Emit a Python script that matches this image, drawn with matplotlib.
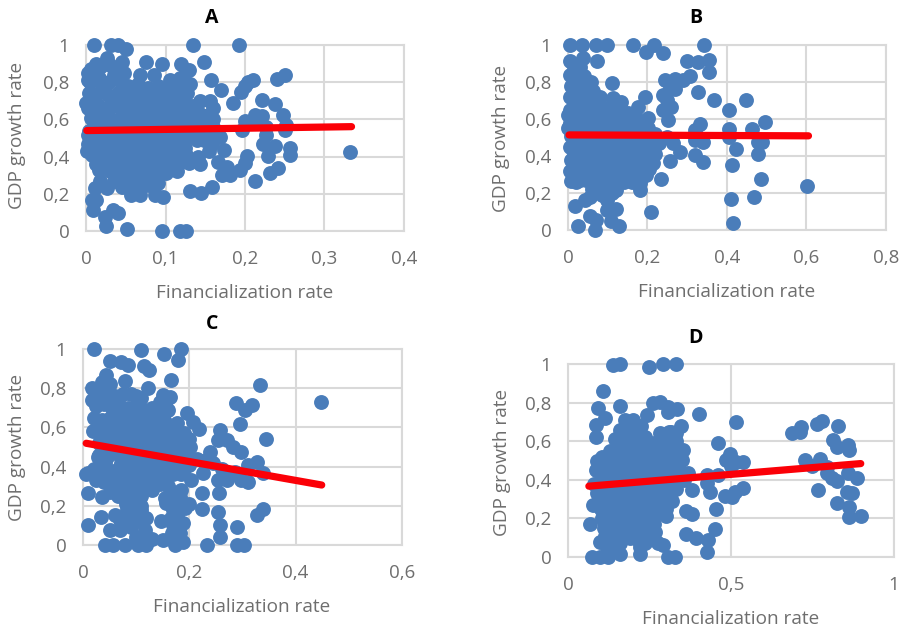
import matplotlib
matplotlib.use("Agg")
import matplotlib.pyplot as plt

plt.rcParams['font.family'] = ['Open Sans', 'DejaVu Sans']

W, H = 904, 630
BLUE = '#4a7dba'
RED = '#fb0007'
GRID = '#d9d9d9'
TXT = '#6e6e6e'

a_edge = [(.01,1),(.032,1),(.04,1),(.05,.98),(.135,1),(.192,1),(.076,.91),(.096,.90),(.12,.90),(.13,.865),(.148,.91),
(.157,.81),(.17,.76),(.185,.69),(.195,.75),(.204,.80),(.21,.81),(.24,.815),(.25,.84),(.221,.705),(.238,.685),(.248,.625),
(.213,.625),(.2,.59),(.252,.57),(.25,.545),(.227,.56),(.196,.545),(.227,.515),(.223,.47),(.238,.455),(.229,.405),(.256,.445),
(.256,.41),(.203,.405),(.2,.365),(.194,.33),(.212,.27),(.232,.31),(.241,.34),(.332,.423),(.181,.30),(.171,.30),(.177,.345),
(.166,.37),(.143,.36),(.141,.40),(.129,.365),(.131,.217),(.145,.206),(.159,.238),(.114,.32),(.097,.185),(.087,.195),(.085,.23),
(.068,.195),(.057,.195),(.051,.01),(.096,0),(.118,0),(.126,0),(.025,.027),(.04,.095),(.034,.113),(.024,.077),(.009,.113),
(.007,.167),(.013,.167),(.011,.23),(.026,.23),(.045,.238),(.143,.70),(.156,.70),(.16,.66),(.133,.67),(.143,.63),(.169,.507),
(.173,.435),(.158,.47),(.139,.49),(.125,.445),(.026,.93),(.045,.91),(.013,.90),(.003,.85),(.002,.81),(0,.69),(.002,.47),(.001,.43),
(.002,.515),(.068,.84),(.085,.84),(.106,.81),(.118,.82),(.131,.79),(.126,.86),(.215,.60),(.205,.58),(.222,.62),(.165,.52),(.15,.54),
(.2,.78),(.16,.6),(.04,.30),(.06,.28),(.075,.25),(.09,.29),(.035,.27),(.052,.24),(.018,.27)]
a_blob = [(.006,.87),(.018,.88),(.03,.89),(.042,.87),(.005,.80),(.016,.82),(.029,.80),(.041,.81),(.053,.78),(.066,.79),(.078,.77),
(.09,.78),(.104,.76),(.115,.77),(.127,.74),(.004,.74),(.017,.75),(.028,.73),(.04,.74),(.052,.72),(.064,.73),(.077,.71),(.089,.72),
(.101,.70),(.113,.71),(.126,.68),(.003,.66),(.015,.68),(.027,.66),(.039,.67),(.051,.65),(.063,.66),(.076,.64),(.088,.65),(.1,.63),
(.112,.64),(.124,.62),(.006,.61),(.018,.6),(.03,.61),(.042,.59),(.055,.6),(.067,.58),(.08,.59),(.092,.6),(.105,.58),(.118,.59),
(.13,.57),(.142,.56),(.004,.54),(.016,.53),(.029,.55),(.041,.53),(.054,.54),(.066,.52),(.079,.53),(.091,.54),(.104,.52),(.117,.53),
(.13,.52),(.145,.52),(.157,.51),(.005,.48),(.017,.47),(.03,.49),(.043,.47),(.055,.48),(.068,.46),(.08,.47),(.093,.48),(.106,.46),
(.118,.47),(.007,.41),(.019,.42),(.032,.40),(.044,.42),(.057,.41),(.069,.40),(.082,.42),(.095,.40),(.107,.41),(.012,.36),(.024,.35),
(.036,.37),(.049,.35),(.061,.36),(.074,.34),(.086,.36),(.099,.34),(.03,.32),(.043,.33),(.056,.31),(.07,.32),(.083,.31),(.1,.31),
(.012,.84),(.035,.84),(.048,.85),(.022,.78),(.046,.77),(.059,.75),(.072,.75),(.096,.74),(.108,.73),(.121,.72),(.01,.71),(.034,.7),
(.058,.69),(.07,.69),(.083,.68),(.094,.68),(.107,.67),(.119,.66),(.009,.64),(.021,.63),(.045,.62),(.069,.62),(.082,.62),(.094,.62),
(.107,.61),(.01,.57),(.024,.57),(.036,.56),(.048,.57),(.061,.56),(.074,.56),(.086,.57),(.099,.55),(.111,.56),(.124,.55),(.136,.54),
(.01,.51),(.023,.5),(.036,.51),(.048,.5),(.06,.51),(.073,.49),(.085,.5),(.098,.5),(.111,.5),(.124,.49),(.011,.44),(.024,.44),(.037,.45),
(.05,.44),(.062,.44),(.075,.43),(.087,.44),(.1,.44),(.113,.43),(.126,.41),(.018,.39),(.03,.38),(.043,.39),(.055,.38),(.068,.37),(.08,.38),
(.092,.37),(.105,.37),(.016,.33),(.05,.29),(.065,.3),(.078,.29),(.1,.34),(.11,.35),
(.14,.6),(.15,.58),(.15,.62),(.16,.56),(.135,.61),(.12,.37),(.115,.39),(.155,.43),(.148,.49),(.09,.26),(.06,.25)]

b_edge = [(.004,1),(.034,1),(.071,1),(.097,1),(.164,1),(.216,1),(.197,.96),(.238,.955),(.343,1),(.3,.915),(.328,.91),(.355,.92),
(.355,.856),(.307,.833),(.29,.81),(.269,.817),(.244,.81),(.256,.766),(.269,.76),(.238,.73),(.328,.748),(.367,.703),(.448,.703),
(.406,.646),(.496,.583),(.462,.545),(.406,.545),(.332,.574),(.319,.538),(.406,.505),(.319,.487),(.34,.478),(.479,.478),(.487,.478),
(.423,.439),(.477,.41),(.319,.406),(.34,.367),(.413,.349),(.485,.277),(.601,.239),(.41,.169),(.468,.176),(.416,.038),(.21,.10),
(.235,.277),(.256,.374),(.282,.42),(.265,.47),(.248,.505),(.252,.595),(.24,.65),(.26,.667),(.248,.703),(.193,.72),(.176,.667),
(.202,.604),(.18,.218),(.18,.254),(.025,.023),(.055,.074),(.067,0),(.071,.056),(.017,.128),(.042,.164),(.055,.18),(.109,.047),
(.129,.023),(.122,.113),(.097,.11),(.097,.164),(.122,.218),(.111,.797),(.074,.915),(.038,.928),(.004,.914),(.113,.712),(.134,.694),
(0,.622),(0,.55),(.008,.263)]
b_blob = [(.012,.9),(.03,.88),(.005,.84),(.022,.85),(.04,.83),(.058,.8),(.008,.78),(.026,.79),(.045,.76),(.062,.75),(.08,.72),
(.006,.72),(.024,.71),(.042,.7),(.06,.69),(.078,.68),(.095,.66),(.112,.65),(.13,.64),(.15,.63),(.168,.62),(.005,.65),(.022,.64),
(.04,.63),(.058,.62),(.076,.61),(.094,.6),(.112,.59),(.13,.58),(.148,.57),(.166,.58),(.184,.56),(.202,.55),(.006,.58),(.024,.57),
(.042,.56),(.06,.55),(.078,.55),(.096,.54),(.114,.53),(.132,.52),(.15,.51),(.168,.52),(.186,.5),(.204,.5),(.22,.52),(.008,.51),
(.026,.5),(.044,.49),(.062,.48),(.08,.49),(.098,.47),(.116,.46),(.134,.47),(.152,.45),(.17,.46),(.188,.44),(.206,.45),(.005,.45),
(.023,.44),(.041,.43),(.059,.42),(.077,.43),(.095,.41),(.113,.4),(.131,.41),(.149,.39),(.167,.4),(.185,.38),(.203,.39),(.007,.38),
(.025,.37),(.043,.36),(.061,.36),(.079,.35),(.097,.34),(.115,.35),(.133,.33),(.151,.34),(.169,.33),(.187,.32),(.205,.33),(.006,.32),
(.024,.3),(.042,.31),(.06,.29),(.078,.28),(.096,.29),(.114,.27),(.132,.29),(.15,.28),(.075,.23),(.09,.22),(.105,.24),(.06,.22),
(.015,.75),(.035,.74),(.052,.72),(.07,.71),(.015,.68),(.033,.67),(.05,.66),(.068,.65),(.086,.64),(.104,.62),(.122,.61),(.015,.61),
(.032,.6),(.05,.59),(.068,.58),(.085,.58),(.103,.56),(.122,.55),(.14,.55),(.158,.54),(.176,.54),(.195,.52),(.015,.54),(.034,.53),
(.052,.52),(.07,.52),(.088,.51),(.106,.5),(.125,.49),(.143,.49),(.16,.49),(.178,.48),(.197,.47),(.014,.48),(.034,.46),(.052,.45),
(.068,.46),(.086,.44),(.104,.43),(.122,.43),(.14,.43),(.158,.42),(.176,.42),(.194,.41),(.015,.41),(.033,.4),(.05,.39),(.068,.39),
(.086,.38),(.104,.37),(.124,.38),(.142,.36),(.16,.37),(.178,.35),(.196,.35),(.015,.34),(.033,.33),(.052,.33),(.07,.32),(.088,.31),
(.106,.31),(.124,.31),(.142,.31),(.16,.3),(.178,.3),(.196,.3),(.065,.26),(.085,.25),(.102,.26),(.085,.19),(.11,.2),
(.03,.27),(.045,.27),(.02,.26),(.16,.26),(.14,.26),(.215,.36),(.22,.41),(.23,.47)]

c_edge = [(.02,1),(.109,.995),(.152,.975),(.184,1),(.179,.944),(.05,.94),(.072,.935),(.085,.918),(.115,.913),(.124,.893),(.166,.842),
(.332,.816),(.447,.731),(.288,.723),(.317,.714),(.305,.689),(.296,.617),(.344,.541),(.195,.672),(.207,.629),(.218,.592),(.258,.587),
(.254,.536),(.27,.536),(.283,.502),(.298,.476),(.239,.476),(.327,.425),(.311,.408),(.339,.366),(.27,.332),(.298,.332),(.311,.323),
(.254,.332),(.256,.267),(.223,.264),(.224,.182),(.254,.17),(.258,.102),(.258,.043),(.339,.182),(.328,.153),(.29,.094),(.234,0),
(.289,0),(.302,0),(.173,0),(.188,.017),(.182,.06),(.188,.11),(.146,.124),(.151,.025),(.119,0),(.104,0),(.079,0),(.057,0),(.041,0),
(.01,.102),(.033,.145),(.05,.077),(.069,.077),(.091,.094),(.116,.077),(.119,.136),(.06,.153),(.082,.179),(.01,.264),(.036,.243),
(.01,.366),(.005,.36),(.028,.447),(.016,.74),(.016,.8),(.157,.213),(.192,.187),(.17,.179),(.182,.247),(.2,.21),(.204,.33),(.226,.366),
(.201,.50),(.176,.62),(.044,.867),(.079,.838),(.122,.8),(.15,.765),(.163,.757),(.245,.42),(.262,.39),(.285,.37),(.225,.43),(.13,.03),
(.168,.06),(.1,.04),(.176,.15),(.11,.18),(.095,.14)]
c_blob = [(.035,.83),(.05,.82),(.03,.77),(.045,.78),(.06,.76),(.075,.77),(.1,.76),(.11,.75),(.155,.72),(.025,.71),(.04,.72),(.055,.7),
(.07,.71),(.085,.7),(.1,.71),(.115,.69),(.13,.7),(.145,.68),(.16,.69),(.02,.65),(.035,.64),(.05,.65),(.065,.63),(.08,.65),(.095,.64),
(.11,.63),(.125,.64),(.14,.62),(.155,.63),(.17,.6),(.018,.58),(.033,.58),(.048,.59),(.063,.57),(.078,.58),(.093,.56),(.108,.57),
(.123,.58),(.138,.56),(.153,.57),(.168,.55),(.185,.54),(.03,.52),(.045,.53),(.06,.51),(.075,.52),(.09,.5),(.105,.51),(.12,.52),
(.135,.5),(.15,.51),(.165,.49),(.18,.48),(.195,.47),(.215,.44),(.03,.46),(.045,.45),(.06,.47),(.075,.45),(.09,.44),(.105,.46),
(.12,.44),(.135,.45),(.15,.43),(.165,.44),(.18,.42),(.2,.41),(.02,.39),(.035,.4),(.05,.38),(.065,.39),(.08,.38),(.095,.39),(.11,.37),
(.125,.38),(.14,.36),(.155,.38),(.17,.36),(.185,.36),(.025,.33),(.04,.32),(.055,.33),(.07,.31),(.085,.32),(.1,.33),(.115,.31),(.13,.32),
(.145,.31),(.16,.3),(.05,.27),(.065,.25),(.08,.26),(.095,.27),(.11,.25),(.17,.27),(.185,.28),(.155,.24),(.11,.2),
(.04,.76),(.065,.68),(.09,.67),(.12,.67),(.15,.65),(.028,.61),(.058,.61),(.088,.6),(.118,.6),(.148,.6),(.04,.55),(.07,.55),(.1,.54),
(.13,.54),(.16,.53),(.04,.49),(.068,.49),(.098,.48),(.128,.48),(.158,.47),(.188,.45),(.042,.42),(.072,.42),(.102,.41),(.132,.41),
(.162,.4),(.03,.36),(.06,.35),(.09,.35),(.12,.34),(.15,.34),(.075,.29),(.105,.28),(.13,.28),(.09,.22),(.172,.22),
(.19,.57),(.2,.54),(.2,.45),(.19,.39),(.09,.77),(.145,.73),(.08,.15),(.1,.12),(.07,.13),(.115,.03),(.17,.1),(.165,.14),(.08,.21)]

d_edge = [(.138,.995),(.161,1),(.248,.983),(.292,1),(.33,1),(.107,.86),(.159,.784),(.092,.773),(.113,.718),(.085,.683),(.087,.623),
(.241,.735),(.261,.796),(.281,.804),(.307,.779),(.333,.766),(.307,.753),(.402,.739),(.515,.697),(.348,.68),(.317,.649),(.281,.64),
(.461,.592),(.688,.644),(.716,.675),(.711,.649),(.763,.687),(.778,.706),(.827,.678),(.814,.606),(.824,.571),(.86,.58),(.862,.554),
(.496,.536),(.486,.502),(.537,.493),(.727,.502),(.773,.507),(.793,.467),(.793,.433),(.824,.393),(.86,.433),(.885,.41),(.768,.346),
(.855,.337),(.87,.332),(.824,.28),(.863,.26),(.862,.208),(.898,.211),(.537,.355),(.512,.337),(.481,.317),(.502,.311),(.453,.251),
(.425,.424),(.425,.381),(.435,.337),(.379,.346),(.368,.433),(.461,.424),(.363,.237),(.379,.225),(.363,.118),(.394,.1),(.43,.087),
(.45,.144),(.425,.026),(.069,.173),(.077,.268),(.353,.554),(.351,.502),(.302,.213),(.292,.06),(.275,.07),(.307,0),(.328,0),(.22,.017),
(.159,.017),(.123,0),(.097,0),(.075,0),(.266,.13),(.097,.078),(.138,.121),(.09,.5),(.105,.52),(.125,.53),(.085,.45),(.1,.46),
(.08,.38),(.09,.33),(.5,.47),(.515,.49),(.75,.47),(.81,.41)]
d_blob = [(.175,.71),(.2,.71),(.225,.68),(.16,.66),(.185,.67),(.21,.65),(.235,.62),(.31,.65),(.33,.64),(.28,.6),(.305,.59),(.33,.6),
(.145,.61),(.17,.62),(.195,.6),(.22,.59),(.245,.58),(.265,.59),(.13,.55),(.155,.56),(.18,.54),(.205,.55),(.23,.53),(.255,.54),(.28,.53),
(.305,.54),(.335,.53),(.115,.48),(.14,.49),(.165,.47),(.19,.49),(.215,.47),(.24,.48),(.265,.46),(.29,.48),(.315,.47),(.34,.45),
(.105,.42),(.13,.43),(.155,.41),(.18,.42),(.205,.41),(.23,.43),(.255,.41),(.28,.42),(.305,.4),(.33,.41),(.355,.4),(.105,.36),(.13,.35),
(.155,.36),(.18,.34),(.205,.36),(.23,.35),(.255,.34),(.28,.36),(.305,.35),(.33,.35),(.095,.29),(.12,.3),(.145,.28),(.17,.3),(.195,.28),
(.22,.29),(.245,.28),(.27,.3),(.295,.28),(.32,.29),(.125,.23),(.15,.22),(.175,.24),(.2,.22),(.225,.23),(.25,.21),(.275,.23),(.3,.25),
(.115,.17),(.14,.16),(.165,.18),(.19,.16),(.215,.17),(.24,.15),(.265,.17),(.115,.11),(.14,.09),(.165,.11),(.19,.1),(.215,.09),(.24,.1),
(.12,.05),(.145,.04),(.16,.07),(.22,.05),(.235,.07),
(.175,.65),(.2,.63),(.29,.56),(.32,.56),(.16,.58),(.185,.58),(.21,.57),(.235,.56),(.145,.52),(.17,.51),(.195,.52),(.22,.51),(.245,.51),
(.27,.5),(.295,.51),(.32,.5),(.125,.46),(.15,.45),(.175,.45),(.2,.44),(.225,.45),(.25,.44),(.275,.45),(.3,.44),(.325,.44),(.118,.39),
(.143,.38),(.168,.38),(.193,.38),(.218,.39),(.243,.38),(.268,.39),(.293,.38),(.318,.38),(.112,.32),(.137,.32),(.162,.32),(.187,.31),
(.212,.32),(.237,.31),(.262,.32),(.287,.32),(.312,.32),(.135,.25),(.16,.26),(.185,.26),(.21,.25),(.235,.25),(.26,.26),(.285,.26),
(.13,.2),(.155,.2),(.18,.2),(.205,.2),(.23,.2),(.255,.19),(.128,.14),(.153,.13),(.178,.14),(.203,.13),(.228,.13),
(.1,.25),(.105,.2),(.11,.15)]

a_x_ticks = ['0', '0,1', '0,2', '0,3', '0,4']
b_x_ticks = ['0', '0,2', '0,4', '0,6', '0,8']
c_x_ticks = ['0', '0,2', '0,4', '0,6']
d_x_ticks = ['0', '0,5', '1']
y_ticks = ['0', '0,2', '0,4', '0,6', '0,8', '1']

panels = [
    dict(name='A', pts=a_edge + a_blob, xt=[0, .1, .2, .3, .4], xl=a_x_ticks, xmax=.4, trend=([.001, .334], [.54, .561]),
         box=(86, 404, 45, 231), title=(212, 18), xlab=(245, 293), ylab=(17, 135)),
    dict(name='B', pts=b_edge + b_blob, xt=[0, .2, .4, .6, .8], xl=b_x_ticks, xmax=.8, trend=([.0025, .605], [.514, .509]),
         box=(568, 886, 45, 230), title=(696, 18), xlab=(727, 292), ylab=(501, 138)),
    dict(name='C', pts=c_edge + c_blob, xt=[0, .2, .4, .6], xl=c_x_ticks, xmax=.6, trend=([.006, .449], [.519, .306]),
         box=(83, 402, 349, 545), title=(212, 324), xlab=(242, 607), ylab=(17, 447)),
    dict(name='D', pts=d_edge + d_blob, xt=[0, .5, 1], xl=d_x_ticks, xmax=1, trend=([.064, .898], [.367, .484]),
         box=(568, 894, 364, 557), title=(696, 338), xlab=(731, 619), ylab=(502, 462)),
]

fig = plt.figure(figsize=(W / 100, H / 100), dpi=100)
for p in panels:
    l, r, t, b = p['box']
    ax = fig.add_axes([l / W, 1 - b / H, (r - l) / W, (b - t) / H])
    ax.set_xlim(0, p['xmax'])
    ax.set_ylim(0, 1)
    ax.set_xticks(p['xt'], p['xl'])
    ax.set_yticks([0, .2, .4, .6, .8, 1], y_ticks)
    ax.grid(True, color=GRID, lw=1.5)
    ax.set_axisbelow(True)
    for s in ax.spines.values():
        s.set_color(GRID)
        s.set_linewidth(1.5)
    ax.tick_params(axis='y', length=0, labelsize=13.5, labelcolor=TXT, pad=12)
    ax.tick_params(axis='x', length=0, labelsize=13.5, labelcolor=TXT, pad=14)
    xs = [q[0] for q in p['pts']]
    ys = [q[1] for q in p['pts']]
    ax.scatter(xs, ys, s=115, color=BLUE, linewidths=0, clip_on=False, zorder=3)
    ax.plot(p['trend'][0], p['trend'][1], color=RED, lw=5.2, solid_capstyle='round', zorder=4, clip_on=False)
    fig.text(p['title'][0] / W, 1 - p['title'][1] / H, p['name'], ha='center', va='center',
             fontsize=14, fontweight='bold', color='black')
    fig.text(p['xlab'][0] / W, 1 - p['xlab'][1] / H, 'Financialization rate', ha='center', va='center',
             fontsize=13.7, color=TXT)
    fig.text(p['ylab'][0] / W, 1 - p['ylab'][1] / H, 'GDP growth rate', ha='center', va='center',
             rotation=90, fontsize=13.7, color=TXT)

fig.savefig('out.png', dpi=100)
